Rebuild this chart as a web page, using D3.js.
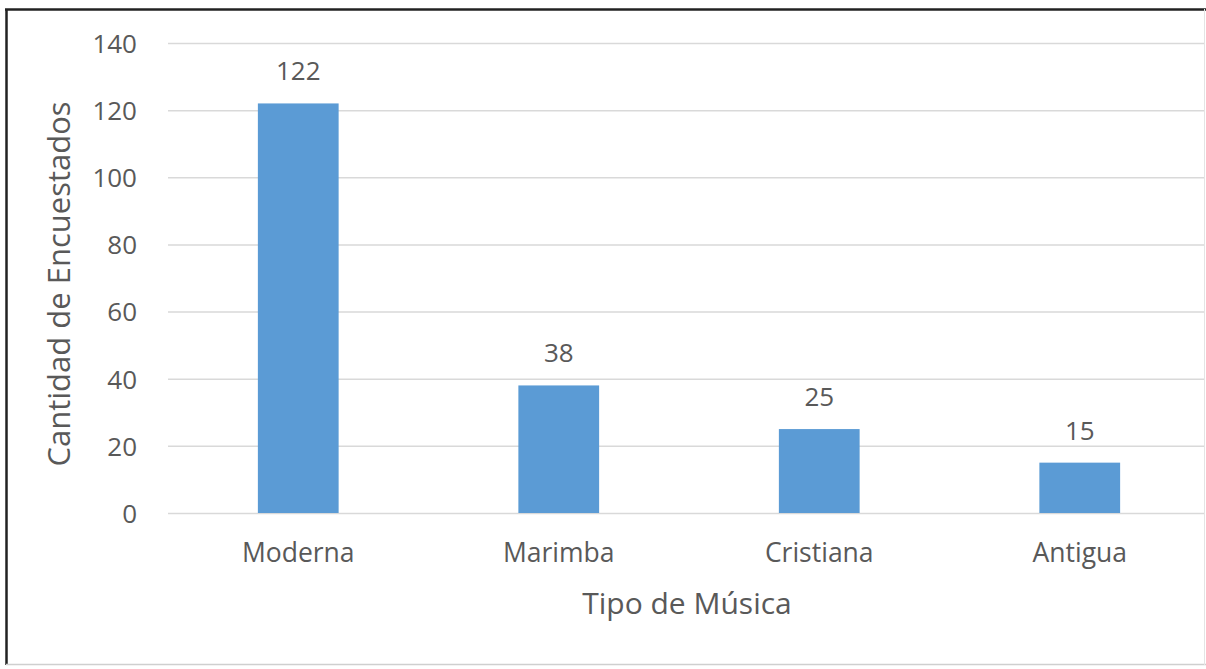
<!DOCTYPE html>
<html>
<head>
<meta charset="utf-8">
<script src="https://cdn.jsdelivr.net/npm/d3@7/dist/d3.min.js"></script>
<style>
  html, body { margin: 0; padding: 0; background: #fff; }
  svg { display: block; }
  text { font-family: "Open Sans", "Noto Sans", sans-serif; fill: #595959; }
</style>
</head>
<body>
<svg id="chart" width="1206" height="669"></svg>
<script>
const categories = ["Moderna", "Marimba", "Cristiana", "Antigua"];
const values = [122, 38, 25, 15];
const yTicks = [0, 20, 40, 60, 80, 100, 120, 140];
const xTitle = "Tipo de Música";
const yTitle = "Cantidad de Encuestados";

const svg = d3.select("#chart");

// outer frame
svg.append("line").attr("x1", 6.5).attr("y1", 9).attr("x2", 6.5).attr("y2", 665)
  .attr("stroke", "#222").attr("stroke-width", 2.5);
svg.append("line").attr("x1", 5).attr("y1", 9.5).attr("x2", 1206).attr("y2", 9.5)
  .attr("stroke", "#222").attr("stroke-width", 2.5);
svg.append("line").attr("x1", 6).attr("y1", 664.5).attr("x2", 1206).attr("y2", 664.5)
  .attr("stroke", "#cfcfcf").attr("stroke-width", 1.5);
svg.append("line").attr("x1", 1204.5).attr("y1", 9).attr("x2", 1204.5).attr("y2", 665)
  .attr("stroke", "#e4e4e4").attr("stroke-width", 1);

const x = d3.scaleBand().domain(categories).range([168, 1210])
  .paddingInner(0.69).paddingOuter(0.345);
const y = d3.scaleLinear().domain([0, 140]).range([513, 43]);

// gridlines
svg.append("g").selectAll("line").data(yTicks).join("line")
  .attr("x1", 168).attr("x2", 1204)
  .attr("y1", d => y(d) + 0.5).attr("y2", d => y(d) + 0.5)
  .attr("stroke", "#d9d9d9").attr("stroke-width", 1.5);

// y axis labels
const yAxis = d3.axisLeft(y).tickValues(yTicks).tickSize(0).tickPadding(0);
const gy = svg.append("g").attr("transform", "translate(137,0)").call(yAxis);
gy.select(".domain").remove();
gy.selectAll("text").style("font-size", "26px").attr("fill", "#595959")
  .style("font-family", "'Open Sans', sans-serif").attr("dy", "0.36em");

// bars
svg.append("g").selectAll("rect").data(values).join("rect")
  .attr("x", (d, i) => x(categories[i]))
  .attr("y", d => y(d))
  .attr("width", x.bandwidth())
  .attr("height", d => y(0) - y(d))
  .attr("fill", "#5b9bd5");

// data labels
svg.append("g").selectAll("text").data(values).join("text")
  .attr("x", (d, i) => x(categories[i]) + x.bandwidth() / 2)
  .attr("y", d => y(d) - 23)
  .attr("text-anchor", "middle")
  .style("font-size", "26px")
  .text(d => d);

// x axis labels
const xAxis = d3.axisBottom(x).tickSize(0).tickPadding(0);
const gx = svg.append("g").attr("transform", "translate(0,513)").call(xAxis);
gx.select(".domain").remove();
gx.selectAll("text").style("font-size", "26.5px").attr("fill", "#595959")
  .style("font-family", "'Open Sans', sans-serif").attr("y", 49).attr("dy", 0);

// axis titles
svg.append("text").attr("x", 687).attr("y", 614).attr("text-anchor", "middle")
  .style("font-size", "30px").text(xTitle);
svg.append("text").attr("transform", "translate(70,284) rotate(-90)")
  .attr("text-anchor", "middle").style("font-size", "31px").text(yTitle);
</script>
</body>
</html>
